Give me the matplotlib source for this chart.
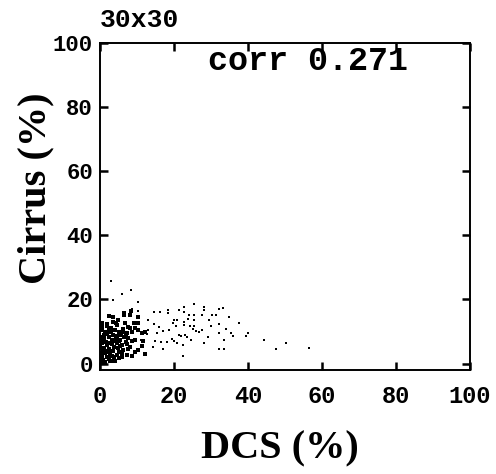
import matplotlib
matplotlib.use("Agg")
import matplotlib.pyplot as plt

title_text = "30x30"
corr_text = "corr 0.271"
x_label = "DCS (%)"
y_label = "Cirrus (%)"
x_ticks = [0, 20, 40, 60, 80, 100]
y_ticks = [0, 20, 40, 60, 80, 100]

# sparse points (DCS %, Cirrus %)
dcs_sparse = [25.5, 28.2, 28.2, 32.2, 33.3, 22.8, 22.8, 21.4, 24.1, 25.5, 27.7, 30.4, 31.3, 34.8, 37.7,
              20.0, 20.9, 22.8, 23.9, 25.5, 29.5, 22.8, 24.3, 25.5, 25.9, 26.8, 30.0, 32.2, 34.1, 35.4,
              35.9, 39.9, 39.5, 18.7, 19.6, 20.5, 21.4, 21.8, 23.0, 23.4, 24.6, 25.2, 27.7, 29.1, 32.2,
              33.6, 28.2, 19.4, 20.0, 20.7, 22.5, 22.5, 32.2, 33.6, 44.4, 50.3, 47.6, 56.5, 18.5, 18.5,
              18.2, 2.9, 8.5, 6.0, 3.5, 10.4, 8.6, 6.7, 10.4, 14.7, 16.2, 13.1, 14.6, 16.0, 17.1,
              15.4, 13.1, 12.6, 16.4, 14.9, 11.9, 11.0, 16.9, 14.2, 12.1]
cirrus_sparse = [18.6, 17.8, 16.8, 16.9, 17.2, 17.8, 16.2, 16.7, 15.2, 15.2, 15.2, 15.2, 15.2, 14.4, 12.8,
                 13.6, 13.6, 13.1, 13.9, 13.6, 13.6, 12.1, 11.6, 11.6, 10.3, 9.7, 11.6, 12.4, 10.7, 9.5,
                 8.6, 9.5, 8.6, 10.5, 12.6, 11.6, 8.9, 8.6, 8.9, 8.4, 7.4, 10.7, 10.5, 8.4, 9.5,
                 7.4, 6.5, 7.6, 6.9, 6.3, 5.8, 2.4, 4.4, 4.4, 7.4, 6.5, 4.4, 5.0, 16.8, 15.8,
                 6.8, 25.9, 23.0, 21.7, 19.9, 19.3, 17.0, 16.0, 16.5, 16.0, 16.0, 13.6, 12.4, 11.5, 10.1,
                 9.5, 10.5, 9.3, 6.8, 7.2, 7.4, 7.4, 4.5, 5.1, 3.0]

# dense cluster near the origin
dcs_dense = [2.3, 3.6, 4.8, 6.6, 8.4, 8.1, 10.4, 10.2, 6.6,
             0.5, 3.6, 4.3, 4.5, 6.8, 7.7, 9.3, 9.5, 8.1,
             0.2, 0.6, 1.4, 2.3, 3.0, 4.1, 5.2, 6.3, 7.2, 8.6, 10.2, 11.3, 12.2,
             0.3, 1.2, 2.3, 3.2, 4.3, 5.4, 6.6, 7.7, 8.6, 9.5, 11.7, 0.5, 1.8, 3.2, 4.5, 5.9, 7.2,
             0.2, 0.9, 2.3, 3.6, 4.8, 6.3, 7.7, 9.5, 10.4, 8.1, 11.3, 0.2, 1.4,
             0.5, 1.8, 3.2, 4.5, 5.9, 7.2, 12.2, 8.6, 0.9, 2.3, 3.6, 5.0,
             0.5, 1.4, 2.7, 4.1, 0.9,
             0.1, 0.1, 0.1, 0.1, 1.0, 1.6, 2.0, 2.8, 3.4, 3.9, 5.0, 5.6, 6.0, 6.9, 1.1, 2.5, 4.0, 5.3,
             0.8, 1.9, 3.0, 4.6, 6.1, 7.0, 2.6, 1.5, 3.8, 5.1, 0.6, 2.0]
cirrus_dense = [14.7, 14.5, 13.6, 15.9, 16.5, 15.2, 14.5, 12.6, 15.2,
                12.6, 13.1, 12.8, 12.1, 12.6, 11.5, 12.6, 11.0, 11.0,
                10.5, 11.0, 10.0, 10.5, 9.7, 10.5, 10.0, 9.7, 9.5, 10.0, 10.5, 9.5, 10.0,
                8.4, 7.9, 8.4, 7.4, 7.9, 7.4, 8.4, 7.9, 6.9, 7.4, 6.9, 6.3, 5.8, 6.1, 6.3, 5.8, 6.1,
                4.8, 4.3, 4.5, 4.0, 4.8, 4.3, 4.5, 3.7, 4.3, 5.1, 5.5, 3.4, 3.2,
                2.2, 2.0, 2.4, 2.7, 2.0, 2.7, 3.0, 2.4, 1.1, 1.3, 0.9, 1.7,
                0.3, 0.6, 0.8, 0.9, 0.2,
                8.0, 5.5, 3.0, 1.5, 9.0, 6.8, 11.8, 6.5, 9.0, 5.2, 7.0, 9.0, 3.3, 8.8, 5.0, 3.5, 7.0, 5.5,
                7.2, 9.2, 11.0, 8.5, 10.8, 6.6, 2.8, 3.9, 2.1, 3.6, 12.0, 12.4]

fig = plt.figure(figsize=(4.96, 4.74), dpi=100)
ax = fig.add_axes([100 / 496, 1 - 370 / 474, 370 / 496, 327 / 474])

ax.scatter(dcs_sparse, cirrus_sparse, s=4, marker='s', c='black', linewidths=0)
ax.scatter(dcs_dense, cirrus_dense, s=5, marker='s', c='black', linewidths=0)

ax.set_xlim(0, 100)
ax.set_ylim(-2, 100)
ax.set_xticks(x_ticks)
ax.set_yticks(y_ticks)

mono = 'Liberation Mono'
ax.set_xticklabels([str(t) for t in x_ticks], fontsize=17, family=mono, weight='bold')
ax.set_yticklabels([str(t) for t in y_ticks], fontsize=16, family=mono, weight='bold')
ax.tick_params(direction='in', length=6, width=1.8, top=True, right=True,
               labeltop=False, labelright=False)
ax.tick_params(axis='x', pad=11)
ax.tick_params(axis='y', pad=5)
for sp in ax.spines.values():
    sp.set_linewidth(1.4)

ax.set_xlabel(x_label, family='Liberation Serif', weight='bold', fontsize=29)
ax.xaxis.set_label_coords(180 / 370, -(430 - 370) / 327)
ax.set_ylabel(y_label, family='Liberation Serif', weight='bold', fontsize=29)
ax.yaxis.set_label_coords(-(100 - 54) / 370, (370 - 188) / 327)

ax.text((208 - 100) / 370, 0.99, corr_text, transform=ax.transAxes, ha='left', va='top',
        family=mono, weight='bold', fontsize=24)
fig.text(100 / 496, 1 - 20 / 474, title_text, ha='left', va='center',
         family=mono, weight='bold', fontsize=19)

fig.savefig("out.png", dpi=100)
